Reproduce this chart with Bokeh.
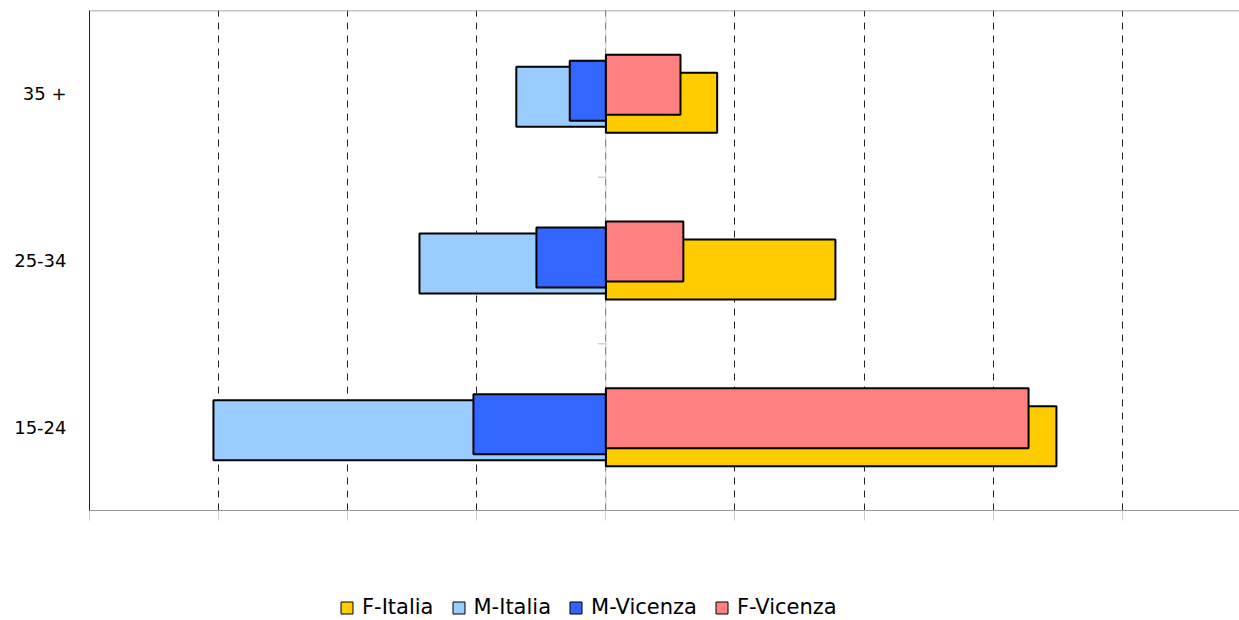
from bokeh.plotting import figure
from bokeh.layouts import column
from bokeh.models import (FactorRange, Range1d, ColumnDataSource, Legend, LegendItem,
                          FixedTicker, Span)
from bokeh.transform import dodge
from bokeh.embed import file_html
from bokeh.resources import INLINE

categories = ["15-24", "25-34", "35 +"]
f_italia = [17.45, 8.89, 4.31]
m_italia = [-15.2, -7.22, -3.47]
m_vicenza = [-5.13, -2.69, -1.40]
f_vicenza = [16.37, 3.00, 2.89]
series_names = ["F-Italia", "M-Italia", "M-Vicenza", "F-Vicenza"]
x_ticks = [-20, -15, -10, -5, 0, 5, 10, 15, 20]

colors = ["#FFCC00", "#99CCFF", "#3366FF", "#FF8080"]
offsets = [-0.054, -0.018, 0.018, 0.054]
FONT = "DejaVu Sans"

p = figure(y_range=FactorRange(factors=categories), x_range=Range1d(-20, 24.54),
           width=1239, height=540, output_backend="svg",
           toolbar_location=None, min_border_left=89, min_border_right=0,
           min_border_top=10, min_border_bottom=30)
p.outline_line_color = None
p.background_fill_color = "white"

src = ColumnDataSource(dict(cat=categories, fi=f_italia, mi=m_italia,
                            mv=m_vicenza, fv=f_vicenza, zero=[0, 0, 0]))

for name, col, color, off in zip(series_names, ["fi", "mi", "mv", "fv"], colors, offsets):
    if col in ("fi", "fv"):
        left, right = "zero", col
    else:
        left, right = col, "zero"
    p.hbar(y=dodge("cat", off, range=p.y_range), left=left, right=right, height=0.36,
           source=src, fill_color=color, line_color="black", line_width=2)

# axis at zero with boundary ticks
p.add_layout(Span(location=0, dimension="height", line_color="#c4c4c4", line_width=1,
                  level="underlay"))
bsrc = ColumnDataSource(dict(c=categories[:2], x0=[-0.31, -0.31], x1=[0, 0]))
p.segment(x0="x0", x1="x1", y0=dodge("c", 0.5, range=p.y_range),
          y1=dodge("c", 0.5, range=p.y_range), source=bsrc, line_color="#bbbbbb",
          line_width=1, level="underlay")
p.add_layout(Span(location=3, dimension="width", line_color="#888888", line_width=1.5))

# grid
p.ygrid.grid_line_color = None
p.xgrid.ticker = FixedTicker(ticks=x_ticks)
p.xgrid.grid_line_color = "#222222"
p.xgrid.grid_line_dash = "7 6"
p.xgrid.grid_line_width = 1

# x axis
p.xaxis.ticker = FixedTicker(ticks=x_ticks)
p.xaxis.axis_line_color = "#999999"
p.xaxis.major_tick_line_color = "#cccccc"
p.xaxis.major_tick_in = 0
p.xaxis.major_tick_out = 10
p.xaxis.minor_tick_line_color = None
p.xaxis.major_label_text_color = None
p.xaxis.major_label_text_font_size = "8px"

# y axis
p.yaxis.axis_line_color = "#222222"
p.yaxis.major_tick_line_color = None
p.yaxis.minor_tick_line_color = None
p.yaxis.major_label_standoff = 17
p.yaxis.major_label_text_font = FONT
p.yaxis.major_label_text_font_size = "18px"
p.yaxis.major_label_text_color = "black"

# legend strip (proxy bars kept out of view)
lg = figure(width=1239, height=80, output_backend="svg", toolbar_location=None,
            x_range=Range1d(1000, 1001), y_range=Range1d(1000, 1001),
            x_axis_type=None, y_axis_type=None,
            min_border=0, min_border_left=0, min_border_right=0,
            min_border_top=0, min_border_bottom=0)
lg.grid.visible = False
lg.outline_line_color = None
items = []
for name, col, color in zip(series_names, ["fi", "mi", "mv", "fv"], colors):
    r = lg.hbar(y="zero", left="zero", right=col, height=0.1, source=src,
                fill_color=color, line_color="black", line_width=1)
    items.append(LegendItem(label=name, renderers=[r], index=0))
legend = Legend(items=items, orientation="horizontal", location=(250, 1),
                glyph_width=15, glyph_height=15, label_standoff=8, spacing=17,
                padding=0, margin=0, label_text_font=FONT, label_text_font_size="21px",
                label_text_color="black",
                border_line_color=None, background_fill_alpha=0)
lg.add_layout(legend, "center")

layout = column(p, lg, spacing=0)
open("out.html", "w").write(file_html(layout, INLINE))
